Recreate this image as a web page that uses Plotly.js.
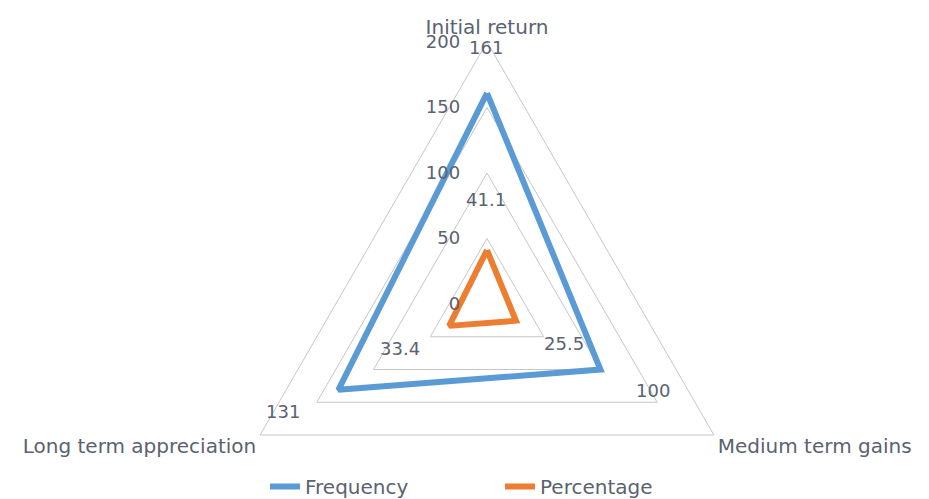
<!DOCTYPE html>
<html>
<head>
<meta charset="utf-8">
<script src="https://cdn.plot.ly/plotly-3.0.1.min.js"></script>
<style>
html, body { margin:0; padding:0; width:929px; height:499px; overflow:hidden; background:#ffffff; }
#chart { width:929px; height:600px; }
</style>
</head>
<body>
<div id="chart"></div>
<script>
// ---- data ----
const categories = ["Initial return", "Medium term gains", "Long term appreciation"];
const frequency = [161, 100, 131];
const percentage = [41.1, 25.5, 33.4];
const radialTickVals = [0, 50, 100, 150, 200];
const seriesNames = ["Frequency", "Percentage"];

// ---- layout helpers ----
const W = 929, H = 600;
const cx = 487, cy = 304, R = 262;
const TXT = "#5b6270";
const FONT = "DejaVu Sans, sans-serif";
function px(x){ return x / W; }
function py(y){ return 1 - y / H; }
function closed(a){ return a.concat([a[0]]); }

const traces = [
  {
    type: "scatterpolar", mode: "lines", name: seriesNames[0],
    r: closed(frequency), theta: closed(categories),
    line: { color: "#5B9BD5", width: 6, shape: "linear" },
    hoverinfo: "skip"
  },
  {
    type: "scatterpolar", mode: "lines", name: seriesNames[1],
    r: closed(percentage), theta: closed(categories),
    line: { color: "#ED7D31", width: 6, shape: "linear" },
    hoverinfo: "skip"
  }
];

// data label placement (pixel positions, as in the original picture)
const freqLabelPos = [[486, 48], [653, 390], [283, 411]];
const pctLabelPos = [[486, 200], [564, 343], [400, 348]];
const annotations = [];
frequency.forEach((v, i) => annotations.push({
  xref: "paper", yref: "paper", x: px(freqLabelPos[i][0]), y: py(freqLabelPos[i][1]),
  xanchor: "center", yanchor: "middle", showarrow: false, text: String(v),
  font: { family: FONT, size: 18, color: TXT }
}));
percentage.forEach((v, i) => annotations.push({
  xref: "paper", yref: "paper", x: px(pctLabelPos[i][0]), y: py(pctLabelPos[i][1]),
  xanchor: "center", yanchor: "middle", showarrow: false, text: String(v),
  font: { family: FONT, size: 18, color: TXT }
}));

const layout = {
  width: W, height: H,
  margin: { l: 0, r: 0, t: 0, b: 0 },
  paper_bgcolor: "#ffffff",
  font: { family: FONT, size: 20, color: TXT },
  showlegend: true,
  legend: {
    orientation: "h", x: px(265), xanchor: "left", y: py(467), yanchor: "top",
    font: { family: FONT, size: 20, color: TXT },
    entrywidth: 190, itemwidth: 30, bgcolor: "rgba(0,0,0,0)"
  },
  polar: {
    domain: { x: [px(cx - R), px(cx + R)], y: [py(cy + R), py(cy - R)] },
    bgcolor: "#ffffff",
    gridshape: "linear",
    radialaxis: {
      range: [0, 200], tickvals: radialTickVals, ticktext: radialTickVals.map(String),
      angle: 90, side: "counterclockwise", tickangle: 90,
      showline: false, ticks: "outside", ticklen: 20, tickcolor: "rgba(0,0,0,0)",
      showgrid: true, gridcolor: "#c6c6c6", gridwidth: 1,
      tickfont: { family: FONT, size: 18, color: TXT }
    },
    angularaxis: {
      direction: "clockwise", rotation: 90,
      showline: true, linecolor: "#c6c6c6", linewidth: 1,
      showgrid: false, ticks: "",
      tickfont: { family: FONT, size: 20, color: TXT }
    }
  },
  annotations: annotations
};

Plotly.newPlot("chart", traces, layout, { displayModeBar: false, staticPlot: true });
</script>
</body>
</html>
